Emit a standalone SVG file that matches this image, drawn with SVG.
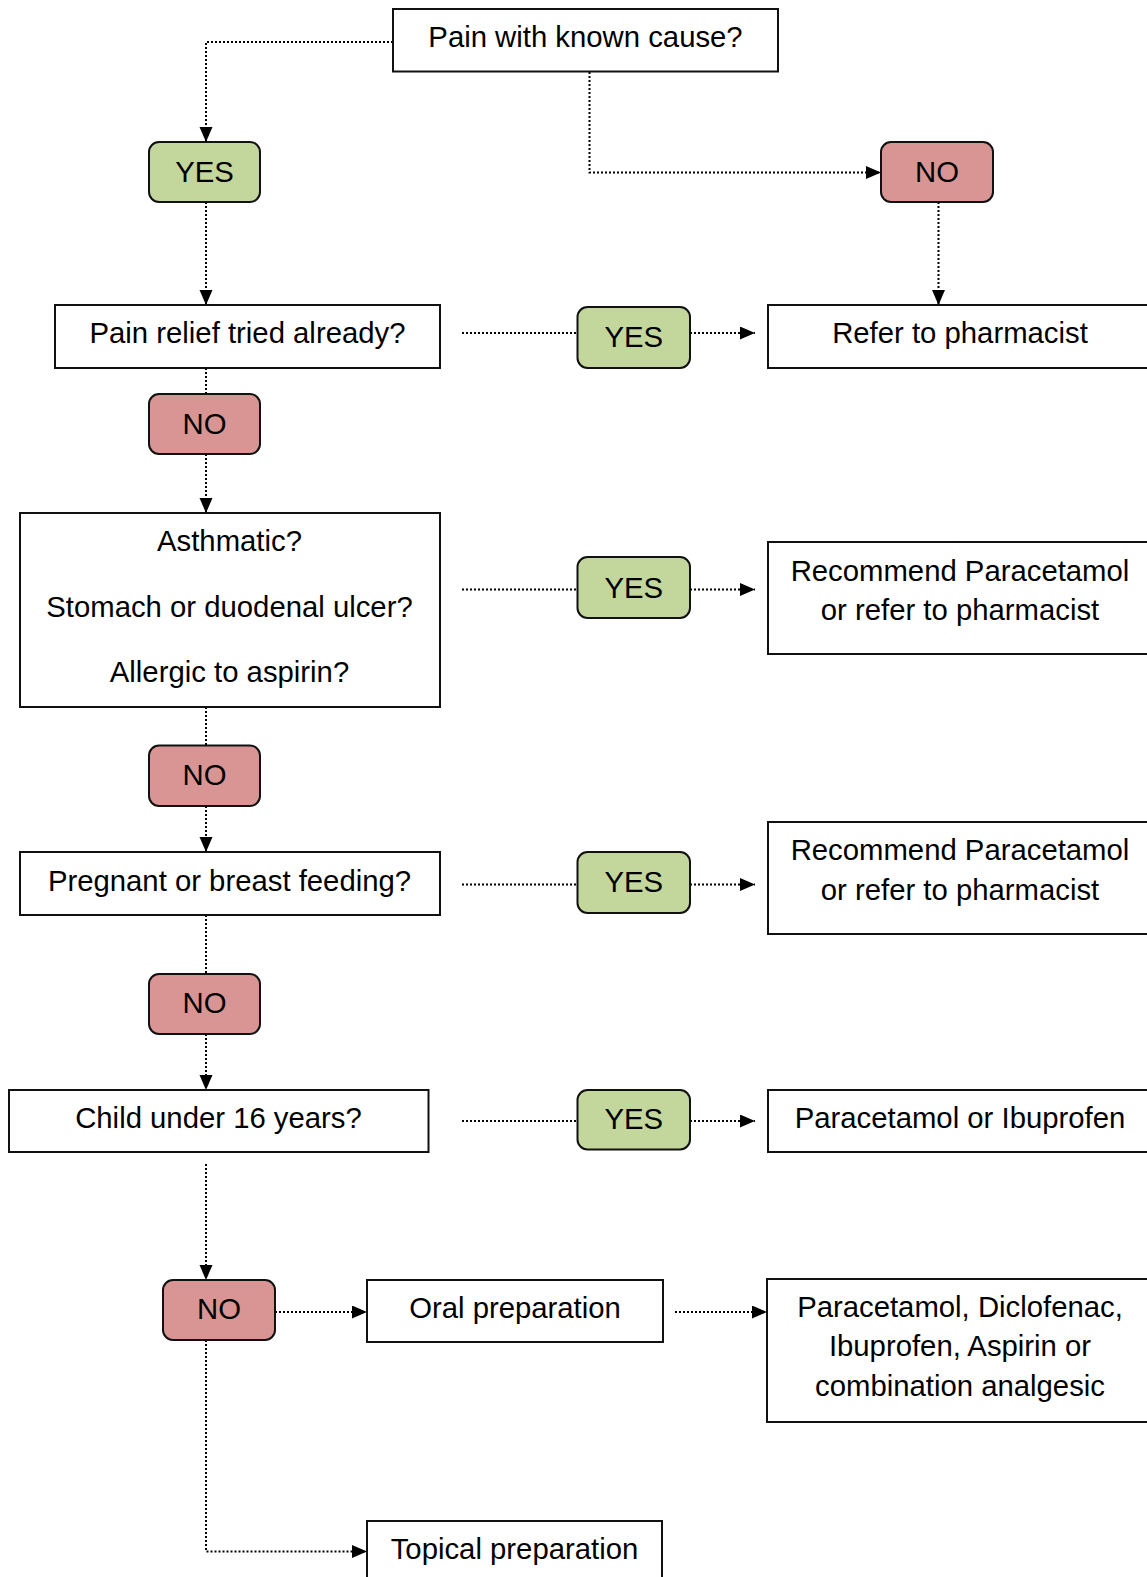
<svg xmlns="http://www.w3.org/2000/svg" width="1147" height="1577" viewBox="0 0 1147 1577">
<defs>
<marker id="arr" markerUnits="userSpaceOnUse" markerWidth="16" markerHeight="14" refX="15" refY="6.5" orient="auto">
<path d="M0,0 L15,6.5 L0,13 z" fill="#000"/>
</marker>
<style>
.box{fill:#fff;stroke:#111;stroke-width:2}
.yes{fill:#c3d69b;stroke:#111;stroke-width:2}
.no{fill:#d99594;stroke:#111;stroke-width:2}
text{font-family:"Liberation Sans",Arial,sans-serif;font-size:29.3px;fill:#000;text-anchor:middle}
.c{fill:none;stroke:#000;stroke-width:2;stroke-dasharray:2 2}
.a{marker-end:url(#arr)}
</style>
</defs>
<rect width="1147" height="1577" fill="#fff"/>
<g id="connectors">
<path class="c a" d="M393,42 H206 V142"/>
<path class="c a" d="M589.5,72 V172.5 H881"/>
<path class="c a" d="M938.5,202 V305"/>
<path class="c a" d="M206,202 V305"/>
<path class="c" d="M462,333 H577.5"/>
<path class="c a" d="M690,333 H755"/>
<path class="c" d="M206,368 V394"/>
<path class="c a" d="M206,454 V513"/>
<path class="c" d="M462,589.5 H577.5"/>
<path class="c a" d="M690,589.5 H755"/>
<path class="c" d="M206,707 V745.5"/>
<path class="c a" d="M206,806 V852"/>
<path class="c" d="M462,884.5 H577.5"/>
<path class="c a" d="M690,884.5 H755"/>
<path class="c" d="M206,915 V974"/>
<path class="c a" d="M206,1034 V1090"/>
<path class="c" d="M462,1121 H577.5"/>
<path class="c a" d="M690,1121 H755"/>
<path class="c a" d="M206,1164 V1280"/>
<path class="c a" d="M275,1312 H367"/>
<path class="c a" d="M675,1312 H767"/>
<path class="c a" d="M206,1340 V1551.5 H367"/>
</g>
<g id="n-top"><rect class="box" x="393" y="9" width="385" height="62.5"/><text x="585.5" y="47">Pain with known cause?</text></g>
<g id="n-yes1"><rect class="yes" x="149" y="142" width="111" height="60" rx="10"/><text x="204.5" y="182">YES</text></g>
<g id="n-no1"><rect class="no" x="881" y="142" width="112" height="60" rx="10"/><text x="937" y="182">NO</text></g>
<g id="n-painrelief"><rect class="box" x="55" y="305" width="385" height="63"/><text x="247.5" y="343">Pain relief tried already?</text></g>
<g id="n-yes2"><rect class="yes" x="577.5" y="307" width="112.5" height="61" rx="10"/><text x="633.8" y="347">YES</text></g>
<g id="n-refer"><rect class="box" x="768" y="305" width="386" height="63"/><text x="960" y="343">Refer to pharmacist</text></g>
<g id="n-no2"><rect class="no" x="149" y="394" width="111" height="60" rx="10"/><text x="204.5" y="434">NO</text></g>
<g id="n-asthmatic"><rect class="box" x="20" y="513" width="420" height="194"/>
<text x="229.5" y="551">Asthmatic?</text>
<text x="229.5" y="617">Stomach or duodenal ulcer?</text>
<text x="229.5" y="682">Allergic to aspirin?</text></g>
<g id="n-yes3"><rect class="yes" x="577.5" y="557" width="112.5" height="61" rx="10"/><text x="633.8" y="598">YES</text></g>
<g id="n-rec1"><rect class="box" x="768" y="542" width="386" height="112"/>
<text x="960" y="581">Recommend Paracetamol</text>
<text x="960" y="620">or refer to pharmacist</text></g>
<g id="n-no3"><rect class="no" x="149" y="745.5" width="111" height="60.5" rx="10"/><text x="204.5" y="785">NO</text></g>
<g id="n-pregnant"><rect class="box" x="20" y="852" width="420" height="63"/><text x="229.5" y="891">Pregnant or breast feeding?</text></g>
<g id="n-yes4"><rect class="yes" x="577.5" y="852" width="112.5" height="61" rx="10"/><text x="633.8" y="892">YES</text></g>
<g id="n-rec2"><rect class="box" x="768" y="822" width="386" height="112"/>
<text x="960" y="860">Recommend Paracetamol</text>
<text x="960" y="899.5">or refer to pharmacist</text></g>
<g id="n-no4"><rect class="no" x="149" y="974" width="111" height="60" rx="10"/><text x="204.5" y="1013">NO</text></g>
<g id="n-child"><rect class="box" x="9" y="1090" width="419.5" height="62"/><text x="218.5" y="1128">Child under 16 years?</text></g>
<g id="n-yes5"><rect class="yes" x="577.5" y="1090" width="112.5" height="59.5" rx="10"/><text x="633.8" y="1129">YES</text></g>
<g id="n-paraibu"><rect class="box" x="768" y="1090" width="386" height="62"/><text x="960" y="1128">Paracetamol or Ibuprofen</text></g>
<g id="n-no5"><rect class="no" x="163" y="1280" width="112" height="60" rx="10"/><text x="219" y="1319">NO</text></g>
<g id="n-oral"><rect class="box" x="367" y="1280" width="296" height="62"/><text x="515" y="1318">Oral preparation</text></g>
<g id="n-paradiclo"><rect class="box" x="767" y="1279" width="387" height="143"/>
<text x="960" y="1317">Paracetamol, Diclofenac,</text>
<text x="960" y="1356">Ibuprofen, Aspirin or</text>
<text x="960" y="1395.5">combination analgesic</text></g>
<g id="n-topical"><rect class="box" x="367" y="1521" width="295" height="70"/><text x="514.5" y="1559">Topical preparation</text></g>
</svg>
